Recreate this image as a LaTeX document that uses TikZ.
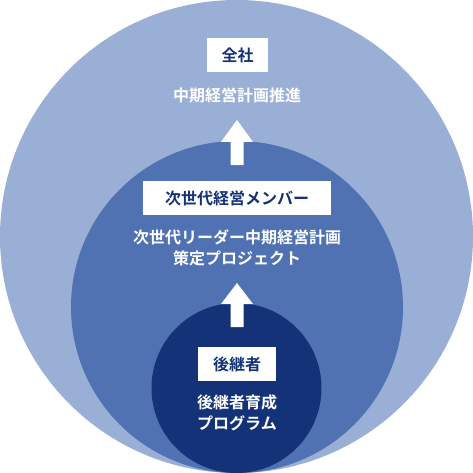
\documentclass[tikz,border=0pt]{standalone}
\usepackage{fontspec}
\newfontfamily\jpfont{Noto Sans CJK JP}[BoldFont={Noto Sans CJK JP Bold}]
\usetikzlibrary{positioning}
\definecolor{outerblue}{HTML}{9AAFD5}
\definecolor{midblue}{HTML}{5072B3}
\definecolor{innerblue}{HTML}{133277}
\tikzset{
    titlebox/.style={fill=white, text=innerblue, font=\jpfont\bfseries\fontsize{16}{18}\selectfont, inner xsep=0pt, minimum height=34pt},
    bodytext/.style={text=white, font=\jpfont\bfseries\fontsize{16}{21}\selectfont, align=center, inner sep=0pt},
    uparrow/.style={fill=white}
}
\begin{document}
\begin{tikzpicture}[x=1pt, y=-1pt]
    \useasboundingbox (0,0) rectangle (473,473);
    \fill[outerblue] (236.5,236.5) circle (236.5);
    \fill[midblue] (237,307) circle (166);
    \fill[innerblue] (236.5,388) circle (85);
    % boxes and texts
    \node[titlebox, minimum width=61pt] (zensha) at (237.5,55.5) {全社};
    \node[bodytext] (zenshatxt) at (237,95) {中期経営計画推進};
    \node[titlebox, minimum width=188pt] (jisedai) at (237,198) {次世代経営メンバー};
    \node[bodytext] (jisedaitxt) at (237,247.5) {次世代リーダー中期経営計画\\策定プロジェクト};
    \node[titlebox, minimum width=78pt] (koukei) at (237,364) {後継者};
    \node[bodytext] (koukeitxt) at (237,412.5) {後継者育成\\プログラム};
    % arrows
    \coordinate (A) at (237,120);
    \coordinate (B) at (237,283);
    \fill[uparrow] (A) -- ++(16,22) -- ++(-9.5,0) -- ++(0,23) -- ++(-13,0) -- ++(0,-23) -- ++(-9.5,0) -- cycle;
    \fill[uparrow] (B) -- ++(16,21) -- ++(-9.5,0) -- ++(0,23) -- ++(-13,0) -- ++(0,-23) -- ++(-9.5,0) -- cycle;
\end{tikzpicture}
\end{document}
